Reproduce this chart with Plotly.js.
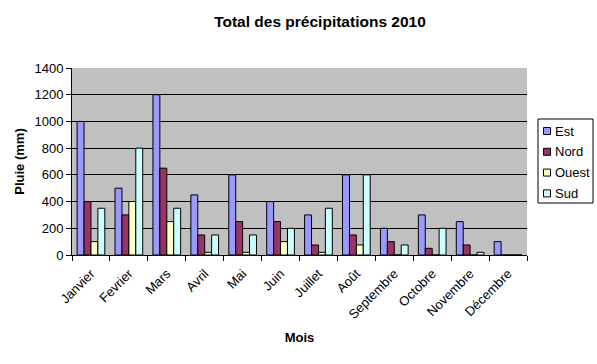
<!DOCTYPE html>
<html>
<head>
<meta charset="utf-8">
<script src="https://cdn.plot.ly/plotly-3.0.1.min.js"></script>
<style>html,body{margin:0;padding:0;background:#fff;}#chart{width:597px;height:364px;}</style>
</head>
<body>
<div id="chart"></div>
<script>
var months = ["Janvier", "Fevrier", "Mars", "Avril", "Mai", "Juin", "Juillet", "Août", "Septembre", "Octobre", "Novembre", "Décembre"];
var est   = [1000, 500, 1200, 450, 600, 400, 300, 600, 200, 300, 250, 100];
var nord  = [400, 300, 650, 150, 250, 250, 75, 150, 100, 50, 75, 0];
var ouest = [100, 400, 250, 20, 20, 100, 20, 75, 0, 0, 0, 0];
var sud   = [350, 800, 350, 150, 150, 200, 350, 600, 75, 200, 20, 0];
var seriesNames = ["Est", "Nord", "Ouest", "Sud"];
var seriesColors = ["#9999FF", "#993366", "#FFFFCC", "#CCFFFF"];
var yTicks = [0, 200, 400, 600, 800, 1000, 1200, 1400];

var seriesValues = [est, nord, ouest, sud];
var data = seriesValues.map(function (vals, i) {
  return {type: 'bar', name: seriesNames[i], x: months, y: vals,
    marker: {color: seriesColors[i], line: {color: '#000', width: 1}}};
});

// plot area in pixels (for placing the legend box outside the plot)
var L = 72, R = 527, T = 68, B = 255;
function px(x) { return (x - L) / (R - L); }
function py(y) { return (B - y) / (B - T); }

var shapes = [{type: 'rect', xref: 'paper', yref: 'paper',
  x0: px(538), x1: px(593), y0: py(203), y1: py(119),
  line: {color: '#000', width: 1}, fillcolor: '#fff', layer: 'above'}];
var annotations = [];
seriesNames.forEach(function (n, i) {
  var cy = 131 + i * 20.8;
  shapes.push({type: 'rect', xref: 'paper', yref: 'paper',
    x0: px(543.5), x1: px(550.5), y0: py(cy + 3.5), y1: py(cy - 3.5),
    line: {color: '#000', width: 1}, fillcolor: seriesColors[i], layer: 'above'});
  annotations.push({xref: 'paper', yref: 'paper', x: px(553), y: py(cy),
    xanchor: 'left', yanchor: 'middle', showarrow: false, text: n,
    font: {size: 13}});
});

var layout = {
  width: 597, height: 364,
  margin: {l: L, r: 597 - R, t: T, b: 364 - B},
  paper_bgcolor: '#ffffff',
  plot_bgcolor: '#C0C0C0',
  font: {family: 'Liberation Sans, Arial, sans-serif', size: 12, color: '#000'},
  barmode: 'group', bargap: 0.27, bargroupgap: 0,
  showlegend: false,
  title: {text: '<b>Total des précipitations 2010</b>', font: {size: 15.5},
    x: 0.536, xref: 'container', xanchor: 'center', y: 0.94, yref: 'container', yanchor: 'middle'},
  xaxis: {
    tickangle: -45, ticks: 'outside', tickson: 'boundaries', ticklen: 5, tickcolor: '#000',
    showline: true, linecolor: '#000', linewidth: 1,
    tickfont: {size: 13}, ticklabelstandoff: 5,
    title: {text: '<b>Mois</b>', font: {size: 13}, standoff: 12},
    automargin: false
  },
  yaxis: {
    range: [0, 1400], tickvals: yTicks, ticktext: yTicks.map(String),
    ticks: 'outside', ticklen: 5, tickcolor: '#000',
    showline: true, linecolor: '#000', linewidth: 1,
    showgrid: true, gridcolor: '#000', gridwidth: 1, zeroline: false,
    tickfont: {size: 13},
    title: {text: '<b>Pluie (mm)</b>', font: {size: 13}, standoff: 6},
    automargin: false
  },
  shapes: shapes,
  annotations: annotations
};
Plotly.newPlot('chart', data, layout, {displayModeBar: false, staticPlot: true});
</script>
</body>
</html>
